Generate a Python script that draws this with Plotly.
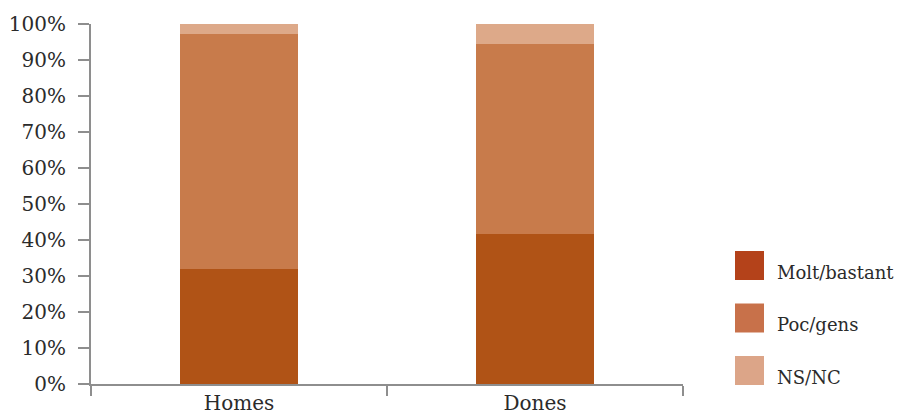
import plotly.graph_objects as go

categories = ["Homes", "Dones"]
series_names = ["Molt/bastant", "Poc/gens", "NS/NC"]
molt_bastant = [31.9, 41.6]
poc_gens = [65.4, 52.8]
ns_nc = [2.7, 5.6]
tick_values = [0, 10, 20, 30, 40, 50, 60, 70, 80, 90, 100]
tick_labels = [f"{v}%" for v in tick_values]

bar_colors = ["#B05316", "#C87B4B", "#DDA989"]
legend_colors = ["#B4421A", "#C8714A", "#DCA588"]

FONT = "DejaVu Serif"
TXT = "#2b2b2b"
AX = "#8e8e8e"

# page body has an 8px margin: the figure starts at (8, 8) in the window
OFF = 8
WIN_W, WIN_H = 905, 412
W, H = WIN_W - OFF, WIN_H - OFF
L, T = 91 - OFF, 24 - OFF
R = W - (683 - OFF)
B = H - (384 - OFF)
pw, ph = W - L - R, H - T - B


def px(x):
    return (x - OFF - L) / pw


def py(y):
    return (H - B - (y - OFF)) / ph


fig = go.Figure()
for name, vals, col in zip(series_names, [molt_bastant, poc_gens, ns_nc], bar_colors):
    fig.add_trace(go.Bar(x=categories, y=vals, name=name, marker_color=col,
                         marker_line_width=0, width=0.4, showlegend=False))

# manual legend with large square swatches
for i, (name, col) in enumerate(zip(series_names, legend_colors)):
    top = 251 + i * 52.5
    fig.add_shape(type="rect", xref="paper", yref="paper",
                  x0=px(735), x1=px(764), y0=py(top + 29), y1=py(top),
                  fillcolor=col, line_width=0)
    fig.add_annotation(xref="paper", yref="paper", x=px(775), y=py(top + 21),
                       text=name, showarrow=False, xanchor="left", yanchor="middle",
                       font=dict(family=FONT, size=18, color=TXT))

fig.update_layout(
    barmode="stack",
    width=W, height=H,
    margin=dict(l=L, r=R, t=T, b=B, pad=0, autoexpand=False),
    paper_bgcolor="white", plot_bgcolor="white",
    font=dict(family=FONT, size=20, color=TXT),
)
fig.update_xaxes(
    range=[-0.5, 1.5], showline=True, linecolor=AX, linewidth=2, automargin=False,
    ticks="outside", tickson="boundaries", ticklen=10, tickwidth=2, tickcolor=AX,
    showgrid=False, zeroline=False, tickfont=dict(family=FONT, size=20, color=TXT),
)
fig.update_yaxes(
    range=[0, 100], tickvals=tick_values, ticktext=tick_labels, automargin=False,
    showline=True, linecolor=AX, linewidth=2,
    ticks="outside", ticklen=11, tickwidth=2, tickcolor=AX,
    showgrid=False, zeroline=False, ticklabelstandoff=8,
    tickfont=dict(family=FONT, size=20, color=TXT),
)

fig.write_html("out.html")
